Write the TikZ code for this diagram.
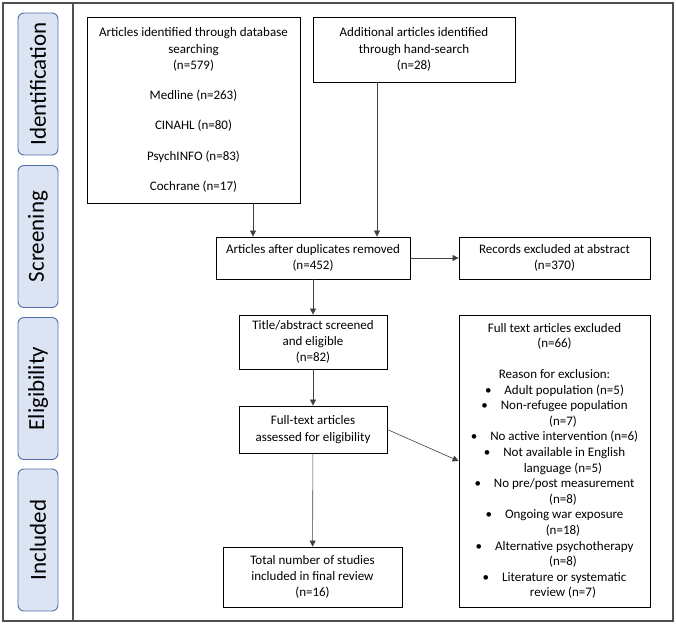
\documentclass[tikz,border=0pt]{standalone}
\usepackage{fontspec}
\setmainfont{Carlito}
\usetikzlibrary{arrows.meta,calc,positioning}
\definecolor{phasefill}{HTML}{DCE3F2}
\definecolor{phasedraw}{HTML}{5070B0}
\definecolor{framegray}{HTML}{505050}
\tikzset{
    phase/.style = {
        draw = phasedraw,
        fill = phasefill,
        rounded corners = 6pt,
        minimum width = 40pt,
        minimum height = 142pt,
        line width = 0.9pt,
        },
    phase text/.style = {
        rotate = 90,
        font = \fontsize{23}{25}\selectfont,
        },
    stagebox/.style = {
        draw,
        line width = 0.8pt,
        align = center,
        inner sep = 2pt,
        font = \fontsize{13}{16.3}\selectfont,
        },
    flow/.style = {
        draw = black!75,
        line width = 0.6pt,
        -{Triangle[length=6pt,width=6pt]},
        },
}
\begin{document}
\begin{tikzpicture}[x=1pt,y=-1pt]
            \useasboundingbox (0,0) rectangle (676,624);

            % frame
            \draw [framegray, line width=1.6pt] (3,3) rectangle (673,621);
            \draw [framegray, line width=1.2pt] (73,3) -- (73,621);

            % phases
            \node [phase] (ident) at (38,84) {};
            \node [phase text] at (ident) {Identification};
            \node [phase] (screen) at (38,236.5) {};
            \node [phase text] at (screen) {Screening};
            \node [phase] (elig) at (38,388.5) {};
            \node [phase text] at (elig) {Eligibility};
            \node [phase] (incl) at (38,540) {};
            \node [phase text] at (incl) {Included};

            % boxes
            \node [stagebox, minimum width=213pt, minimum height=186pt] (db) at (193.5,110)
                {Articles identified through database\\ searching\\ (n=579)\\[14pt]
                 Medline (n=263)\\[14pt] CINAHL (n=80)\\[14pt] PsychINFO (n=83)\\[14pt] Cochrane (n=17)};
            \node [stagebox, minimum width=202pt, minimum height=65pt] (hand) at (414,49.5)
                {Additional articles identified\\ through hand-search\\ (n=28)};
            \node [stagebox, minimum width=194pt, minimum height=42pt] (dup) at (313,258)
                {Articles after duplicates removed\\ (n=452)};
            \node [stagebox, minimum width=191pt, minimum height=42pt] (abs) at (554.5,258)
                {Records excluded at abstract\\ (n=370)};
            \node [stagebox, minimum width=148pt, minimum height=54pt] (title) at (313,342)
                {Title/abstract screened\\ and eligible\\ (n=82)};
            \node [stagebox, minimum width=148pt, minimum height=47pt] (full) at (313,429.5)
                {Full-text articles\\ assessed for eligibility};
            \node [stagebox, minimum width=179pt, minimum height=60pt] (total) at (312.5,577)
                {Total number of studies\\ included in final review\\ (n=16)};
            \node [stagebox, font=\fontsize{13}{15.6}\selectfont, minimum width=191pt, minimum height=292pt] (excl) at (554.5,461)
                {Full text articles excluded\\ (n=66)\\[15pt]
                 Reason for exclusion:\\
                 \textbullet\hspace{1em}Adult population (n=5)\\
                 \textbullet\hspace{1em}Non-refugee population\\ \hspace{1.3em}(n=7)\\
                 \textbullet\hspace{1em}No active intervention (n=6)\\
                 \textbullet\hspace{1em}Not available in English\\ \hspace{1.3em}language (n=5)\\
                 \textbullet\hspace{1em}No pre/post measurement\\ \hspace{1.3em}(n=8)\\
                 \textbullet\hspace{1em}Ongoing war exposure\\ \hspace{1.3em}(n=18)\\
                 \textbullet\hspace{1em}Alternative psychotherapy\\ \hspace{1.3em}(n=8)\\
                 \textbullet\hspace{1em}Literature or systematic\\ \hspace{1.3em}review (n=7)};

            % arrows
            \draw [flow] ([xshift=59.5pt]db.south) -- ([xshift=59.5pt]db.south |- dup.north);
            \draw [flow] ([xshift=-37pt]hand.south) -- ([xshift=-37pt]hand.south |- dup.north);
            \draw [flow] (dup.east) -- (abs.west);
            \draw [flow] (dup) -- (title);
            \draw [flow] (title) -- (full);
            \draw [flow] (full) -- (total);
            \draw [flow] (full.east) -- (excl.west);
\end{tikzpicture}
\end{document}
